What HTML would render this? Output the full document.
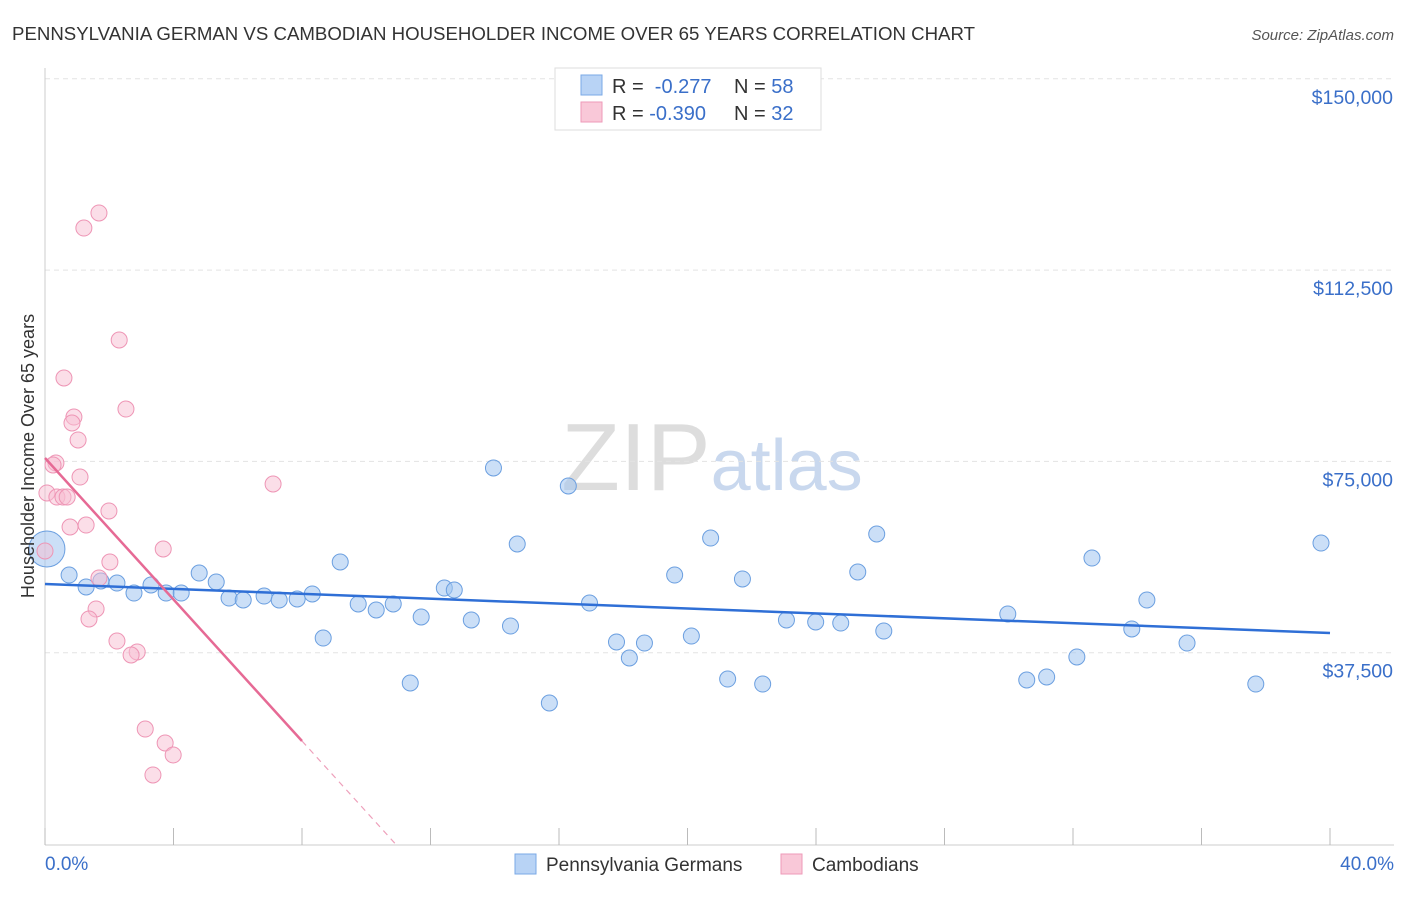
<!DOCTYPE html>
<html><head><meta charset="utf-8"><style>
body{margin:0;background:#fff;font-family:"Liberation Sans",sans-serif;}
svg text{font-family:"Liberation Sans",sans-serif;}
</style></head><body>
<svg id="c" width="1406" height="892" xmlns="http://www.w3.org/2000/svg">
<text x="12" y="40" font-size="18" fill="#333" textLength="963" lengthAdjust="spacingAndGlyphs">PENNSYLVANIA GERMAN VS CAMBODIAN HOUSEHOLDER INCOME OVER 65 YEARS CORRELATION CHART</text>
<text x="1394" y="40" font-size="15" fill="#555" font-style="italic" text-anchor="end">Source: ZipAtlas.com</text>
<text x="712" y="490" font-size="96" fill="#ddd" text-anchor="middle" font-family="Liberation Serif">ZIP<tspan fill="#c9d8ee" font-family="Liberation Sans" font-size="72">atlas</tspan></text>
<g id="grid"></g>
<g id="axes"></g>
<g id="marks"></g>
<text transform="translate(34,456) rotate(-90)" font-size="18" fill="#333" text-anchor="middle">Householder Income Over 65 years</text>
<g>
<rect x="555" y="68" width="266" height="62" fill="#fff" stroke="#ddd"/>
<rect x="581" y="75" width="21" height="20" fill="#b8d3f5" stroke="#7aa8e6"/>
<rect x="581" y="102" width="21" height="20" fill="#f9c8d8" stroke="#ee9ab8"/>
<text x="612" y="93" font-size="20" fill="#333">R = <tspan fill="#3a6fc9">&#160;-0.277</tspan><tspan x="734">N = </tspan><tspan fill="#3a6fc9">58</tspan></text>
<text x="612" y="120" font-size="20" fill="#333">R = <tspan fill="#3a6fc9">-0.390</tspan><tspan x="734">N = </tspan><tspan fill="#3a6fc9">32</tspan></text>
</g>
<g>
<rect x="515" y="854" width="21" height="20" fill="#b8d3f5" stroke="#7aa8e6"/>
<text x="546" y="871" font-size="19" fill="#333">Pennsylvania Germans</text>
<rect x="781" y="854" width="21" height="20" fill="#f9c8d8" stroke="#ee9ab8"/>
<text x="812" y="871" font-size="19" fill="#333">Cambodians</text>
</g>
<text x="45" y="870" font-size="19" fill="#3a6fc9">0.0%</text>
<text x="1394" y="870" font-size="19" fill="#3a6fc9" text-anchor="end">40.0%</text>
</svg>
<script>
const yTicks=[150000,112500,75000,37500];
const yTickLabels=["$150,000","$112,500","$75,000","$37,500"];
const blueX=[0.06,0.75,1.28,1.74,2.24,2.77,3.30,3.77,4.24,4.80,5.33,5.73,6.17,6.82,7.29,7.85,8.32,8.66,9.19,9.75,10.31,10.84,11.37,11.71,12.43,12.74,13.27,13.96,14.49,14.70,15.70,16.29,16.95,17.79,18.19,18.66,19.60,20.12,20.72,21.25,21.71,22.34,23.08,23.99,24.77,25.30,25.89,26.11,29.97,30.56,31.18,32.12,32.59,33.83,34.30,35.55,37.69,39.72];
const blueY=[57830,52730,50380,51560,51160,49200,50770,49200,49200,53120,51360,48220,47830,48610,47830,48030,49010,40380,55280,47050,45870,47050,31560,44500,50180,49790,43910,73710,42730,58810,27640,70180,47240,39600,36460,39400,52730,40770,59980,32340,51950,31360,43910,43520,43320,53320,60770,41750,45090,32150,32740,36660,56060,42150,47830,39400,31360,59000];
const pinkX=[1.68,1.21,2.31,0.59,2.52,0.90,0.84,1.03,0.34,0.25,1.09,7.10,0.06,0.37,0.56,0.69,1.99,1.28,0.78,3.68,0,2.02,1.68,1.59,1.37,2.24,2.87,2.68,3.12,3.74,3.99,3.36];
const pinkY=[123700,120750,98800,91350,85270,83700,82530,79200,74690,74300,71940,70570,68810,68020,68020,68020,65280,62530,62140,57830,57440,55280,52140,46070,44110,39790,37640,37050,22540,19800,17450,13530];
const blueTrend=[50970,41360];
const pinkTrend=[75670,20190,8];
const X=v=>45+v*32.125, Y=v=>844-v/196.03;
const NS="http://www.w3.org/2000/svg";
function mk(g,t,a){const e=document.createElementNS(NS,t);for(const k in a)e.setAttribute(k,a[k]);document.getElementById(g).appendChild(e);return e;}
yTicks.forEach((t,i)=>{
 const l=mk('grid','line',{x1:45,x2:1394,y1:Y(t),y2:Y(t),stroke:'#e3e3e3','stroke-dasharray':'5,4'});
 
 
 const tx=mk('axes','text',{x:1393,y:Y(t)+25,'font-size':19.5,fill:'#3a6fc9','text-anchor':'end'});
 tx.textContent=yTickLabels[i];
 
 
});
const ax=mk('axes','line',{x1:45,x2:45,y1:68,y2:845,stroke:'#ccc'});


const bx=mk('axes','line',{x1:45,x2:1394,y1:845,y2:845,stroke:'#ccc'});


for(let i=0;i<=10;i++){
 const t=mk('axes','line',{x1:X(i*4),x2:X(i*4),y1:828,y2:845,stroke:'#bbb'});
 
 
}
blueX.forEach((x,i)=>{
 const c=mk('marks','circle',{cx:X(x),cy:Y(blueY[i]),r:i==0?18:8,fill:'rgba(160,196,240,0.55)',stroke:'#6b9fe0','stroke-width':1});
 
 
});
pinkX.forEach((x,i)=>{
 const c=mk('marks','circle',{cx:X(x),cy:Y(pinkY[i]),r:8,fill:'rgba(248,190,210,0.5)',stroke:'#ee95b5','stroke-width':1});
 
 
});
const bl=mk('marks','line',{x1:X(0),y1:Y(blueTrend[0]),x2:X(40),y2:Y(blueTrend[1]),stroke:'#2f6fd6','stroke-width':2.5});


const slope=(pinkTrend[0]-pinkTrend[1])/pinkTrend[2];
const zeroX=pinkTrend[0]/slope;
const pl=mk('marks','line',{x1:X(0),y1:Y(pinkTrend[0]),x2:X(pinkTrend[2]),y2:Y(pinkTrend[1]),stroke:'#e66a95','stroke-width':2.5});


const pd=mk('marks','line',{x1:X(pinkTrend[2]),y1:Y(pinkTrend[1]),x2:X(zeroX),y2:Y(0),stroke:'#eea0bb','stroke-width':1.2,'stroke-dasharray':'6,5'});


</script>
</body></html>
